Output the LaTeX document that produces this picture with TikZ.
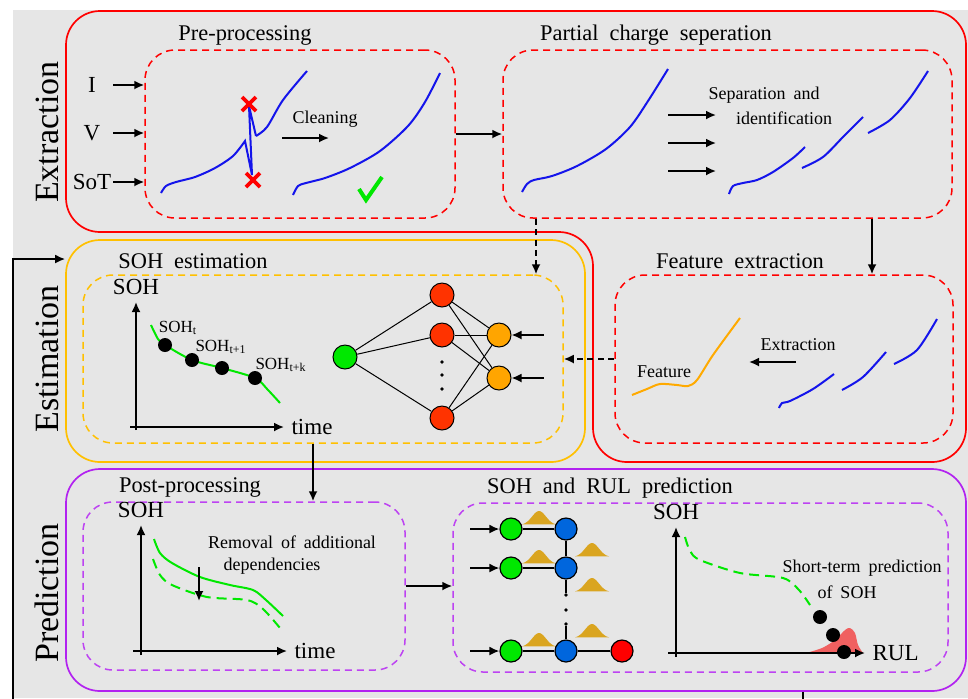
\documentclass[tikz,border=0pt]{standalone}
\usepackage{fontspec}
\setmainfont{Liberation Serif}
\usepackage{xcolor}
\usepackage{tikz}
\usetikzlibrary{arrows.meta,fit}

\definecolor{bggray}{RGB}{230,230,230}
\definecolor{estyellow}{RGB}{255,192,0}
\definecolor{predpurple}{RGB}{178,34,240}
\definecolor{curveblue}{RGB}{20,20,235}
\definecolor{lgreen}{RGB}{0,232,0}
\definecolor{nnred}{RGB}{255,51,0}
\definecolor{nnorange}{RGB}{255,165,0}
\definecolor{nodeblue}{RGB}{0,102,221}
\definecolor{bumpgold}{RGB}{218,165,32}
\definecolor{pdfred}{RGB}{240,96,96}
\definecolor{featorange}{RGB}{255,170,0}

\newcommand\titlefont{\fontsize{11.2}{13}\selectfont\spaceskip=5.5pt plus 1pt\relax}
\newcommand\notefont{\fontsize{9}{11}\selectfont\spaceskip=4pt plus 1pt\relax}
\newcommand\axisfont{\fontsize{11.5}{13}\selectfont}
\newcommand\bandfont{\fontsize{17}{20}\selectfont}
\newcommand\sohfont{\fontsize{8.5}{10}\selectfont}

\tikzset{bump/.pic={
	\fill[bumpgold] plot[domain=-1:1,samples=25,smooth] ({17*\x},{-14*exp(-3*\x*\x)}) -- cycle;
}}

\begin{document}
\begin{tikzpicture}[x=0.5pt,y=-0.5pt,>={Latex[length=5pt,width=4.5pt]},
	outbox/.style={draw,line width=0.85pt,rounded corners=17pt,inner sep=0pt},
	inbox/.style={draw,line width=0.75pt,dash pattern=on 3.5pt off 2.5pt,rounded corners=15pt,inner sep=0pt},
	link/.style={line width=0.9pt},
	dasharrow/.style={link,->,dash pattern=on 3pt off 2.2pt},
	neuron/.style={circle,draw,line width=0.5pt,inner sep=0pt,minimum size=12pt},
	cellnode/.style={circle,draw,line width=0.6pt,inner sep=0pt,minimum size=11pt},
	blob/.style={circle,fill=black,inner sep=0pt,minimum size=7pt},
	dotnode/.style={circle,fill=black,inner sep=0pt,minimum size=1.8pt},
	bluecurve/.style={curveblue,line width=1pt},
	boxtitle/.style={font=\titlefont},
	smalltxt/.style={font=\notefont},
	axlbl/.style={font=\axisfont},
	bandlbl/.style={font=\bandfont,rotate=90}]
	
	\useasboundingbox (0,0) rectangle (968,698);
	\fill[bggray] (13,10) rectangle (968,698);
	
	% outer boxes
	\draw[red,line width=0.85pt,rounded corners=17pt] (300,11) -- (966,11) -- (966,462) -- (593,462) -- (593,232) -- (66,232) -- (66,11) -- cycle;
	\node[outbox,estyellow,fit={(66,240) (585,462)}] (estbox) {};
	\node[outbox,predpurple,fit={(66,469) (966,691)}] (predbox) {};
	
	\node[bandlbl] (bandE) at (47,132) {Extraction};
	\node[bandlbl] (bandS) at (47,359) {Estimation};
	\node[bandlbl] (bandP) at (47,593) {Prediction};
	
	% inner boxes
	\node[inbox,red,fit={(145,50) (455,218)}] (pre) {};
	\node[inbox,red,fit={(503,50) (952,218)}] (pcs) {};
	\node[inbox,red,fit={(615,275) (953,443)}] (fex) {};
	\node[inbox,estyellow,fit={(83,275) (563,443)}] (soh) {};
	\node[inbox,predpurple!85,fit={(83,502) (405,670)}] (post) {};
	\node[inbox,predpurple!85,fit={(453,503) (948,672)}] (pred) {};
	
	\node[boxtitle] (preT) at (245,35) {Pre-processing};
	\node[boxtitle] (pcsT) at (656,35) {Partial charge seperation};
	\node[boxtitle] (sohT) at (193,261) {SOH estimation};
	\node[boxtitle] (fexT) at (740,261) {Feature extraction};
	\node[boxtitle] (postT) at (190,487) {Post-processing};
	\node[boxtitle] (predT) at (610,488) {SOH and RUL prediction};
	
	% connections
	\coordinate (instart) at (113,0);
	\coordinate (fexin) at (872,0);
	\coordinate (sohin) at (536,0);
	\coordinate (postin) at (313,0);
	\coordinate (fbB) at (803,702);
	\coordinate (fbL) at (13,259);
	\node[axlbl] (inI) at (92,85) {I};
	\node[axlbl] (inV) at (92,133) {V};
	\node[axlbl] (inS) at (92,182) {SoT};
	\foreach \n in {inI,inV,inS}
		\draw[->,link] (\n -| instart) -- (\n -| pre.west);
	\draw[->,link] (pre.east) -- (pre.east -| pcs.west);
	\draw[->,link] (pcs.south -| fexin) -- (fex.north -| fexin);
	\draw[dasharrow] (pcs.south -| sohin) -- (soh.north -| sohin);
	\draw[dasharrow] (fex.west) -- (fex.west -| soh.east);
	\draw[->,link] (soh.south -| postin) -- (post.north -| postin);
	\draw[->,link] (post.east) -- (post.east -| pred.west);
	\draw[->,link] (predbox.south -| fbB) -- (fbB) -| (fbL) -- (fbL -| estbox.west);
	
	% pre-processing
	\draw[bluecurve] plot[smooth] coordinates {(161,193) (166,186) (176,182) (195,177) (215,168) (233,156) (245,141)} -- (252,175) -- (249,106) -- (256,136);
	\draw[bluecurve] plot[smooth] coordinates {(256,136) (267,127) (283,100) (307,71)};
	\draw[red,line width=1.8pt] (242,97) -- (256,111) (242,111) -- (256,97);
	\draw[red,line width=1.8pt] (246,173) -- (260,187) (246,187) -- (260,173);
	\node[smalltxt] (cleanT) at (325,119) {Cleaning};
	\coordinate (clA) at (282,138);
	\coordinate (clB) at (329,138);
	\draw[->,link] (clA) -- (clB);
	\draw[bluecurve] plot[smooth] coordinates {(293,195) (298,186) (306,183) (325,178) (350,168) (380,151) (408,126) (425,102) (440,73)};
	\draw[lgreen,line width=2pt] (359,189) -- (366,200) -- (382,177);
	
	% partial charge seperation
	\draw[bluecurve] plot[smooth] coordinates {(522,192) (527,184) (534,180) (552,176) (577,166) (606,149) (630,127) (648,101) (668,69)};
	\foreach \y in {115,143,171}
		\draw[->,link] (668,\y) -- (716,\y);
	\node[smalltxt] (sepT) at (764,95) {Separation and};
	\node[smalltxt] (idT) at (784,118) {identification};
	\draw[bluecurve] plot[smooth] coordinates {(729,194) (733,186) (743,183) (757,180) (773,172) (793,158) (805,147)};
	\draw[bluecurve] plot[smooth] coordinates {(802,168) (823,157) (843,137) (863,117)};
	\draw[bluecurve] plot[smooth] coordinates {(868,133) (890,120) (910,98) (928,71)};
	
	% feature extraction
	\draw[featorange,line width=1pt] plot[smooth] coordinates {(632,395) (647,389) (660,384) (677,385) (688,386) (697,380) (713,355) (740,318)};
	\node[smalltxt] (featT) at (664,372) {Feature};
	\node[smalltxt] (extT) at (798,345) {Extraction};
	\coordinate (exA) at (796,362);
	\coordinate (exB) at (749,362);
	\draw[->,link] (exA) -- (exB);
	\draw[bluecurve] plot[smooth] coordinates {(779,408) (782,403) (790,401) (813,389) (834,374)};
	\draw[bluecurve] plot[smooth] coordinates {(842,390) (863,377) (886,352)};
	\draw[bluecurve] plot[smooth] coordinates {(894,364) (917,350) (937,319)};
	
	% SOH estimation chart
	\draw[->,link] (136,430) -- (136,302) node[above,axlbl] (sohY) {SOH};
	\draw[->,link] (130,427) -- (284,427) node[right,axlbl] (sohX) {time};
	\draw[lgreen,line width=1pt] plot[smooth] coordinates {(151,325) (158,339) (165,345) (192,360) (222,368) (255,378) (268,390) (280,403)};
	\node[blob] (d1) at (165,345) {};
	\node[blob] (d2) at (192,360) {};
	\node[blob] (d3) at (222,368) {};
	\node[blob] (d4) at (255,378) {};
	\node[font=\sohfont] (l1) at (178,328) {SOH\textsubscript{t}};
	\node[font=\sohfont] (l2) at (221,347) {SOH\textsubscript{t+1}};
	\node[font=\sohfont] (l3) at (281,365) {SOH\textsubscript{t+k}};
	
	% network
	\node[neuron,fill=lgreen] (g0) at (345,357) {};
	\node[neuron,fill=nnred] (r1) at (442,295) {};
	\node[neuron,fill=nnred] (r2) at (442,335) {};
	\node[neuron,fill=nnred] (r3) at (442,418) {};
	\node[neuron,fill=nnorange] (o1) at (499,335) {};
	\node[neuron,fill=nnorange] (o2) at (499,378) {};
	\foreach \y in {362,375,389}
		\node[dotnode] at (442,\y) {};
	\foreach \r in {r1,r2,r3} {
		\draw[line width=0.5pt] (g0) -- (\r);
		\draw[line width=0.5pt] (\r) -- (o1);
		\draw[line width=0.5pt] (\r) -- (o2);
	}
	\draw[<-,link] (o1) -- ++(45,0);
	\draw[<-,link] (o2) -- ++(45,0);
	
	% post-processing chart
	\draw[->,link] (141,655) -- (141,525) node[above,axlbl] (postY) {SOH};
	\draw[->,link] (133,651) -- (287,651) node[right,axlbl] (postX) {time};
	\draw[lgreen,line width=1pt] plot[smooth] coordinates {(154,539) (160,553) (172,563) (200,577) (230,585) (253,590) (266,600) (283,616)};
	\draw[lgreen,line width=1pt,dash pattern=on 5pt off 3pt] plot[smooth] coordinates {(153,559) (160,575) (172,585) (207,597) (247,600) (263,609) (280,628)};
	\coordinate (rmA) at (199,567);
	\coordinate (rmB) at (199,601);
	\draw[->,link] (rmA) -- (rmB);
	\node[smalltxt] (rmT1) at (292,542) {Removal of additional};
	\node[smalltxt] (rmT2) at (272,566) {dependencies};
	
	% SOH and RUL prediction
	\pic at (539,525) {bump};
	\pic at (539,564) {bump};
	\pic at (539,647) {bump};
	\pic at (592,557) {bump};
	\pic at (592,592) {bump};
	\pic at (592,638) {bump};
	\node[cellnode,fill=lgreen] (g1) at (511,529) {};
	\node[cellnode,fill=lgreen] (g2) at (511,568) {};
	\node[cellnode,fill=lgreen] (g3) at (511,651) {};
	\node[cellnode,fill=nodeblue] (b1) at (566,529) {};
	\node[cellnode,fill=nodeblue] (b2) at (566,568) {};
	\node[cellnode,fill=nodeblue] (b3) at (566,651) {};
	\node[cellnode,fill=red] (rr) at (622,651) {};
	\node[dotnode] (v1) at (566,595) {};
	\node[dotnode] (v2) at (566,610) {};
	\node[dotnode] (v3) at (566,624) {};
	\draw[line width=0.6pt] (g1) -- (b1) (g2) -- (b2) (g3) -- (b3) -- (rr);
	\draw[line width=0.6pt] (b1) -- (b2) -- (v1) (v3) -- (b3);
	\foreach \g in {g1,g2,g3}
		\draw[<-,link] (\g) -- ++(-41,0);
	
	\fill[pdfred] plot[smooth] coordinates {(806,653) (822,648) (835,640) (845,630) (850,628) (855,633) (858,645) (863,653)} -- cycle;
	\draw[->,link] (676,657) -- (676,527) node[above,axlbl] (predY) {SOH};
	\draw[->,link] (668,653) -- (865,653) node[right,axlbl] (predX) {RUL};
	\draw[lgreen,line width=1pt,dash pattern=on 5pt off 3pt] plot[smooth] coordinates {(685,537) (690,551) (700,560) (740,573) (783,578) (799,590) (810,605)};
	\node[blob] (p1) at (820,617) {};
	\node[blob] (p2) at (833,635) {};
	\node[blob] (p3) at (844,652) {};
	\node[smalltxt] (stT1) at (862,568) {Short-term prediction};
	\node[smalltxt] (stT2) at (847,592) {of SOH};
\end{tikzpicture}
\end{document}
